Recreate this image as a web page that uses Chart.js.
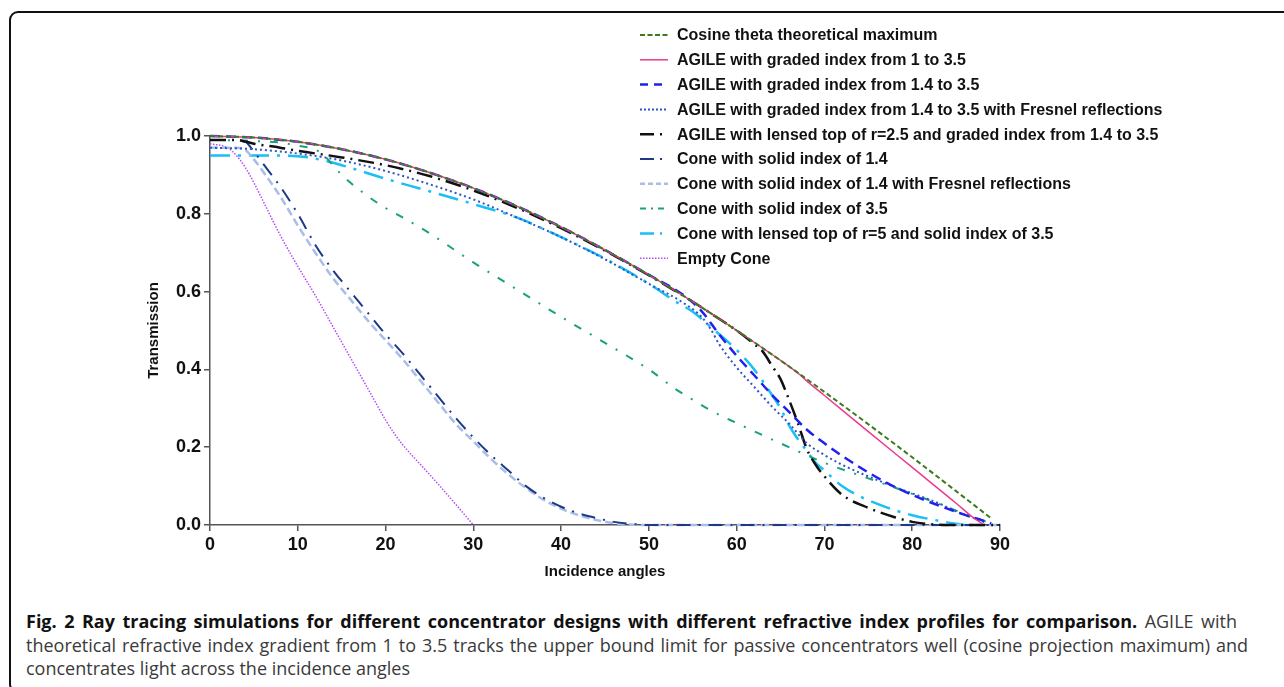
<!DOCTYPE html>
<html>
<head>
<meta charset="utf-8">
<script src="https://cdn.jsdelivr.net/npm/chart.js@4.4.0/dist/chart.umd.min.js"></script>
<style>
  body { margin: 0; background: #fff; width: 1284px; height: 687px; overflow: hidden; position: relative; }
  #frame { position: absolute; left: 9px; top: 11px; width: 1320px; height: 682px; border: 2px solid #111; border-radius: 9px; box-sizing: border-box; }
  #chart { position: absolute; left: 0; top: 0; }
  .cap { position: absolute; left: 26px; font-family: 'Open Sans', sans-serif; font-size: 18px; line-height: 22px; color: #3a3a3a; white-space: nowrap; }
  .cap.just { text-align: justify; text-align-last: justify; white-space: normal; }
  .cap b { color: #111; font-weight: 700; }
</style>
</head>
<body>
<div id="frame"></div>
<canvas id="chart" width="1284" height="600"></canvas>
<div class="cap just" style="top:610px; width:1211px"><b>Fig. 2 Ray tracing simulations for different concentrator designs with different refractive index profiles for comparison.</b> AGILE with</div>
<div class="cap just" style="top:634px; width:1222px">theoretical refractive index gradient from 1 to 3.5 tracks the upper bound limit for passive concentrators well (cosine projection maximum) and</div>
<div class="cap" style="top:657px">concentrates light across the incidence angles</div>

<script>
// Datos (angulo en grados, transmision)
const cosAngles = [0, 5, 10, 15, 20, 25, 30, 35, 40, 45, 50, 55, 60, 65, 70, 75, 80, 85, 89];
const cosValues = [1, 0.996, 0.985, 0.966, 0.94, 0.906, 0.866, 0.819, 0.766, 0.707, 0.643, 0.574, 0.5, 0.423, 0.342, 0.259, 0.174, 0.087, 0.017];

const agile1Angles = [0, 5, 10, 15, 20, 25, 30, 35, 40, 45, 50, 55, 60, 65, 67, 68, 70, 75, 80, 85, 87, 88];
const agile1Values = [1, 0.996, 0.985, 0.966, 0.94, 0.906, 0.866, 0.819, 0.766, 0.707, 0.643, 0.574, 0.5, 0.423, 0.39, 0.37, 0.333, 0.24, 0.148, 0.056, 0.018, 0.003];

const agile14Angles = [0, 5, 10, 15, 20, 25, 30, 35, 40, 45, 50, 54, 56, 58, 60, 62, 64, 66, 68, 70, 72, 75, 78, 81, 84, 86, 88, 89];
const agile14Values = [1, 0.996, 0.985, 0.966, 0.94, 0.906, 0.866, 0.819, 0.766, 0.707, 0.643, 0.59, 0.55, 0.49, 0.435, 0.385, 0.335, 0.29, 0.245, 0.21, 0.178, 0.135, 0.098, 0.068, 0.042, 0.026, 0.012, 0.004];

const agileFresAngles = [0, 5, 10, 15, 20, 25, 30, 35, 40, 45, 50, 54, 56, 57, 58, 60, 62, 64, 66, 68, 70, 72, 75, 78, 81, 83, 85, 87, 88.5];
const agileFresValues = [0.97, 0.966, 0.955, 0.937, 0.91, 0.876, 0.837, 0.79, 0.74, 0.683, 0.62, 0.57, 0.535, 0.505, 0.465, 0.405, 0.355, 0.305, 0.26, 0.21, 0.18, 0.155, 0.125, 0.098, 0.073, 0.056, 0.035, 0.018, 0.005];

const lens25Angles = [0, 3, 5, 8, 10, 15, 20, 25, 30, 35, 40, 45, 50, 55, 58, 60, 62, 63, 64, 65, 66, 67, 68, 69, 70, 72, 75, 78, 80, 82, 84, 90];
const lens25Values = [0.99, 0.99, 0.98, 0.97, 0.962, 0.945, 0.925, 0.897, 0.86, 0.815, 0.763, 0.705, 0.642, 0.574, 0.53, 0.5, 0.465, 0.445, 0.41, 0.375, 0.32, 0.26, 0.195, 0.155, 0.125, 0.078, 0.044, 0.02, 0.008, 0.002, 0, 0];

const cone14Angles = [0, 2, 4, 5, 6, 8, 10, 12, 14, 16, 18, 20, 22, 24, 26, 28, 30, 32, 34, 36, 38, 40, 42, 44, 46, 48, 50, 60, 70, 80, 90];
const cone14Values = [0.99, 0.99, 0.985, 0.96, 0.93, 0.87, 0.8, 0.72, 0.655, 0.6, 0.545, 0.49, 0.44, 0.385, 0.33, 0.275, 0.225, 0.18, 0.14, 0.1, 0.07, 0.047, 0.03, 0.018, 0.008, 0.003, 0, 0, 0, 0, 0];

const cone14FresAngles = [0, 3, 4, 5, 6, 8, 10, 12, 14, 16, 18, 20, 22, 24, 26, 28, 30, 32, 34, 36, 38, 40, 42, 44, 46, 48, 50, 60, 70, 80, 90];
const cone14FresValues = [0.97, 0.97, 0.965, 0.94, 0.91, 0.845, 0.77, 0.7, 0.635, 0.58, 0.525, 0.475, 0.425, 0.37, 0.315, 0.26, 0.215, 0.17, 0.13, 0.095, 0.065, 0.042, 0.025, 0.013, 0.005, 0.001, 0, 0, 0, 0, 0];

const cone35Angles = [0, 5, 8, 10, 12, 13, 14, 15, 18, 20, 22, 25, 30, 35, 40, 45, 50, 53, 55, 57, 60, 65, 70, 75, 80, 84, 87, 89];
const cone35Values = [0.99, 0.987, 0.983, 0.975, 0.965, 0.95, 0.925, 0.9, 0.845, 0.815, 0.79, 0.75, 0.675, 0.605, 0.535, 0.468, 0.4, 0.35, 0.322, 0.295, 0.262, 0.21, 0.16, 0.12, 0.08, 0.046, 0.02, 0.004];

const lens5Angles = [0, 5, 10, 13, 15, 20, 25, 30, 35, 40, 45, 50, 53, 55, 57, 60, 62, 64, 65, 66, 67, 68, 69, 70, 72, 74, 77, 80, 83, 85, 86];
const lens5Values = [0.95, 0.95, 0.948, 0.937, 0.925, 0.89, 0.858, 0.825, 0.79, 0.74, 0.685, 0.62, 0.575, 0.548, 0.51, 0.45, 0.4, 0.335, 0.3, 0.255, 0.22, 0.19, 0.16, 0.14, 0.1, 0.074, 0.046, 0.025, 0.011, 0.003, 0];

const emptyAngles = [0, 2, 3, 4, 5, 6, 8, 10, 12, 14, 16, 18, 20, 21, 22, 24, 26, 28, 30];
const emptyValues = [0.98, 0.97, 0.95, 0.92, 0.88, 0.835, 0.745, 0.665, 0.59, 0.51, 0.43, 0.35, 0.27, 0.235, 0.205, 0.155, 0.105, 0.053, 0];

const xTicks = [0, 10, 20, 30, 40, 50, 60, 70, 80, 90];
const yTicks = [0, 0.2, 0.4, 0.6, 0.8, 1.0];

function pts(angles, values) {
    return angles.map((a, i) => ({ x: a, y: values[i] }));
}

function serie(label, angles, values, color, width, dash, legendDash) {
    return {
        label: label,
        data: pts(angles, values),
        borderColor: color,
        backgroundColor: color,
        borderWidth: width,
        borderDash: dash,
        legendDash: legendDash || dash,
        pointRadius: 0,
        fill: false,
        cubicInterpolationMode: 'monotone',
        clip: 8
    };
}

const datasets = [
    serie('Cosine theta theoretical maximum', cosAngles, cosValues, '#3b7a1e', 2, [5, 3], [5, 2.5]),
    serie('AGILE with graded index from 1 to 3.5', agile1Angles, agile1Values, '#ee3a8c', 1.5, []),
    serie('AGILE with graded index from 1.4 to 3.5', agile14Angles, agile14Values, '#1f22ee', 2.5, [10, 6], [8, 6]),
    serie('AGILE with graded index from 1.4 to 3.5 with Fresnel reflections', agileFresAngles, agileFresValues, '#2f55c4', 2, [2, 3], [2, 2]),
    serie('AGILE with lensed top of r=2.5 and graded index from 1.4 to 3.5', lens25Angles, lens25Values, '#111111', 2.5, [16, 6, 2, 6], [14, 6, 2, 6]),
    serie('Cone with solid index of 1.4', cone14Angles, cone14Values, '#1e3a86', 2, [14, 8, 2, 8], [14, 6, 2, 6]),
    serie('Cone with solid index of 1.4 with Fresnel reflections', cone14FresAngles, cone14FresValues, '#a9bde9', 2.5, [8, 4], [5, 3]),
    serie('Cone with solid index of 3.5', cone35Angles, cone35Values, '#18a080', 2, [8, 10, 2, 10], [6, 5, 2, 5]),
    serie('Cone with lensed top of r=5 and solid index of 3.5', lens5Angles, lens5Values, '#19bff5', 2.5, [20, 8, 3, 8], [14, 6, 2, 6]),
    serie('Empty Cone', emptyAngles, emptyValues, '#b44cf5', 1.5, [1.5, 1.5])
];

// Leyenda dibujada a mano a la derecha
const sideLegend = {
    id: 'sideLegend',
    afterDraw(chart) {
        const ctx = chart.ctx;
        ctx.save();
        ctx.font = 'bold 16px "Liberation Sans", Arial, sans-serif';
        ctx.textBaseline = 'middle';
        chart.data.datasets.forEach((ds, i) => {
            const y = 35 + i * 24.8;
            ctx.strokeStyle = ds.borderColor;
            ctx.lineWidth = ds.borderWidth;
            ctx.setLineDash(ds.legendDash);
            ctx.beginPath();
            ctx.moveTo(640, y);
            ctx.lineTo(668, y);
            ctx.stroke();
            ctx.setLineDash([]);
            ctx.fillStyle = '#111';
            ctx.fillText(ds.label, 677, y + 1);
        });
        ctx.restore();
    }
};

const ctx = document.getElementById('chart').getContext('2d');
const myChart = new Chart(ctx, {
    type: 'line',
    data: { datasets: datasets },
    options: {
        responsive: false,
        animation: false,
        layout: { padding: { left: 0, top: 136, right: 284, bottom: 0 } },
        plugins: { legend: { display: false }, tooltip: { enabled: false } },
        scales: {
            x: {
                type: 'linear',
                min: 0,
                max: 90,
                afterBuildTicks: s => { s.ticks = xTicks.map(v => ({ value: v })); },
                afterFit: s => { s.height = 75; },
                grid: { drawOnChartArea: false, drawTicks: true, tickLength: 6, color: '#555', lineWidth: 1.5 },
                border: { display: true, color: '#555', width: 1.5 },
                ticks: {
                    color: '#111',
                    padding: 3,
                    maxRotation: 0,
                    font: { family: '"Liberation Sans", Arial, sans-serif', size: 18, weight: 'bold' }
                },
                title: {
                    display: true,
                    text: 'Incidence angles',
                    color: '#111',
                    padding: { top: 0, bottom: 19 },
                    font: { family: '"Liberation Sans", Arial, sans-serif', size: 15, weight: 'bold' }
                }
            },
            y: {
                type: 'linear',
                min: 0,
                max: 1,
                afterBuildTicks: s => { s.ticks = yTicks.map(v => ({ value: v })); },
                afterFit: s => { s.width = 210; },
                grid: { drawOnChartArea: false, drawTicks: true, tickLength: 6, color: '#555', lineWidth: 1.5 },
                border: { display: true, color: '#555', width: 1.5 },
                ticks: {
                    color: '#111',
                    padding: 3,
                    callback: v => v.toFixed(1),
                    font: { family: '"Liberation Sans", Arial, sans-serif', size: 18, weight: 'bold' }
                },
                title: {
                    display: true,
                    text: 'Transmission',
                    color: '#111',
                    padding: { top: 145, bottom: 0 },
                    font: { family: '"Liberation Sans", Arial, sans-serif', size: 15, weight: 'bold' }
                }
            }
        }
    },
    plugins: [sideLegend]
});
</script>
</body>
</html>
